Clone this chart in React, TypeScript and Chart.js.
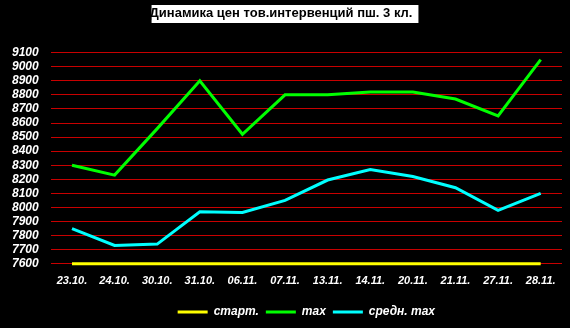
import React, { useEffect, useRef } from "react";
import { Chart, registerables } from "chart.js";

Chart.register(...registerables);

const TITLE = "Динамика цен тов.интервенций пш. 3 кл.";
const categories = ["23.10.", "24.10.", "30.10.", "31.10.", "06.11.", "07.11.", "13.11.", "14.11.", "20.11.", "21.11.", "27.11.", "28.11."];
const startValues = [7600, 7600, 7600, 7600, 7600, 7600, 7600, 7600, 7600, 7600, 7600, 7600];
const maxValues = [8300, 8230, 8560, 8900, 8520, 8800, 8800, 8820, 8820, 8770, 8650, 9050];
const avgMaxValues = [7850, 7730, 7740, 7970, 7965, 8050, 8195, 8270, 8220, 8140, 7980, 8100];
const seriesNames = ["старт.", "max", "средн. max"];
const yMin = 7600;
const yMax = 9100;
const yStep = 100;

const FONT = '"Liberation Sans", Arial, sans-serif';

const bgPlugin = {
  id: "bgTitleBox",
  beforeDraw(chart: any) {
    const ctx = chart.ctx;
    ctx.save();
    ctx.fillStyle = "#000";
    ctx.fillRect(0, 0, chart.width, chart.height);
    ctx.font = `bold 13px ${FONT}`;
    const w = ctx.measureText(TITLE).width;
    ctx.fillStyle = "#fff";
    ctx.fillRect(chart.width / 2 - w / 2 - 2, 5, w + 4, 18);
    ctx.restore();
  },
};

export default function App() {
  const ref = useRef<HTMLCanvasElement>(null);
  useEffect(() => {
    if (!ref.current) return;
    const mk = (label: string, data: number[], color: string) => ({
      label,
      data,
      borderColor: color,
      backgroundColor: color,
      borderWidth: 3,
      pointRadius: 0,
      tension: 0,
      clip: 4,
    });
    const chart = new Chart(ref.current, {
      type: "line",
      data: {
        labels: categories,
        datasets: [
          mk(seriesNames[0], startValues, "#FFFF00"),
          mk(seriesNames[1], maxValues, "#00FF00"),
          mk(seriesNames[2], avgMaxValues, "#00FFFF"),
        ],
      },
      options: {
        animation: false,
        responsive: false,
        layout: { padding: { left: 0, right: 8, bottom: 0, top: 0 } },
        plugins: {
          title: {
            display: true,
            text: TITLE,
            color: "#000",
            font: { family: FONT, size: 13, weight: "bold" },
            padding: { top: 6, bottom: 31 },
          },
          legend: {
            position: "bottom",
            fullSize: false,
            labels: {
              color: "#fff",
              font: { family: FONT, size: 12, weight: "bold", style: "italic" },
              usePointStyle: true,
              pointStyle: "line",
              pointStyleWidth: 30,
              padding: 7,
            },
          },
          tooltip: { enabled: false },
        },
        scales: {
          x: {
            offset: true,
            grid: { display: false, drawTicks: false },
            border: { display: false },
            ticks: {
              color: "#fff",
              padding: 11,
              maxRotation: 0,
              autoSkip: false,
              font: { family: FONT, size: 11, weight: "bold", style: "italic" },
            },
          },
          y: {
            min: yMin,
            max: yMax,
            grid: { color: "#C80000", lineWidth: 1, drawTicks: false },
            border: { display: false },
            ticks: {
              stepSize: yStep,
              autoSkip: false,
              maxTicksLimit: 100,
              color: "#fff",
              padding: 12,
              callback: (v: any) => String(v),
              font: { family: FONT, size: 12, weight: "bold", style: "italic" },
            },
          },
        },
      },
      plugins: [bgPlugin],
    });
    return () => chart.destroy();
  }, []);
  return (
    <div style={{ position: "fixed", left: 0, top: 0, width: 570, height: 328, background: "#000" }}>
      <canvas ref={ref} width={570} height={328} style={{ display: "block" }} />
    </div>
  );
}
